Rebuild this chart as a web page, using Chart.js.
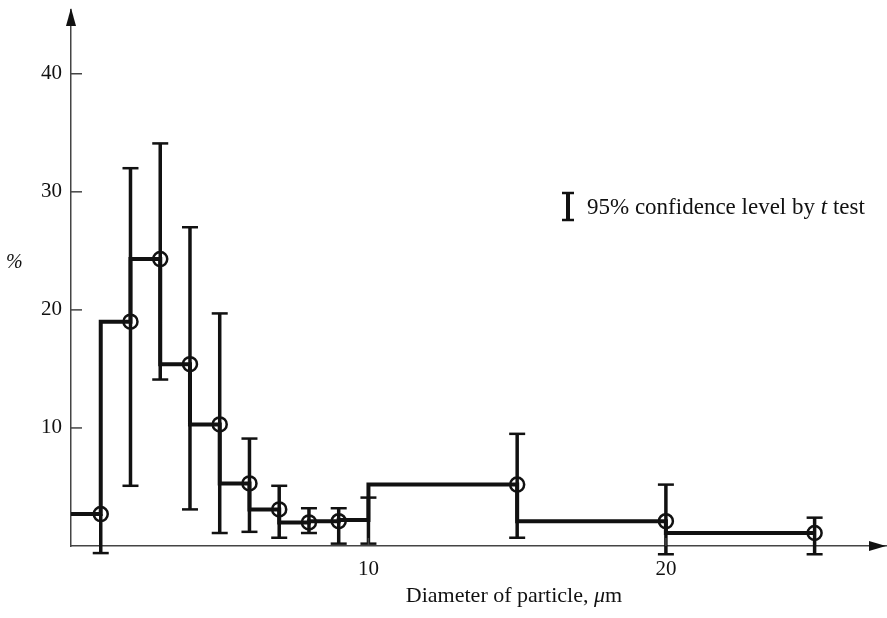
<!DOCTYPE html>
<html>
<head>
<meta charset="utf-8">
<script src="https://cdn.jsdelivr.net/npm/chart.js@4"></script>
<style>
    html, body { margin:0; padding:0; background:#fff; }
    #wrap { width:887px; height:618px; position:relative; }
</style>
</head>
<body>
<div id="wrap"><canvas id="chart"></canvas></div>
<script>
/* ---------- DATA ---------- */
// right edge of each size class, um
const binEdges = [1, 2, 3, 4, 5, 6, 7, 8, 9, 10, 15, 20, 25];
// share of particles in each class, %
const percent  = [2.7, 19.0, 24.3, 15.4, 10.3, 5.3, 3.1, 2.0, 2.1, 2.2, 5.2, 2.1, 1.1];
// 95% confidence limits (t test)
const errLow   = [-0.6, 5.1, 14.1, 3.1, 1.1, 1.2, 0.7, 1.1, 0.2, 0.2, 0.7, -0.7, -0.7];
const errHigh  = [2.7, 32.0, 34.1, 27.0, 19.7, 9.1, 5.1, 3.2, 3.2, 4.1, 9.5, 5.2, 2.4];
// classes plotted without a circle
const noMarker = [10];

const xTicks = [10, 20];
const yTicks = [10, 20, 30, 40];

const xTitle = ["Diameter of particle, ", "\u03bc", "m"];
const yTitle = "%";
const legendText = ["95% confidence level by ", "t", " test"];

/* ---------- STYLE ---------- */
const SERIF = '"Liberation Serif", "DejaVu Serif", serif';
const INK = "#111";
const AXIS = "#444";

// step outline starts at x = 0 with the first class value
const stepData = [{x:0, y:percent[0]}].concat(binEdges.map((e,i)=>({x:e, y:percent[i]})));
const markData = binEdges.map((e,i)=>({x:e, y:percent[i]}));

/* ---------- EXTRA DRAWING ---------- */
const errorBars = {
    id: "errorBars",
    beforeDatasetsDraw(c){
        const {ctx, scales:{x, y}} = c;
        ctx.save();
        ctx.strokeStyle = INK;
        ctx.lineCap = "butt";
        binEdges.forEach((e,i)=>{
            const px = x.getPixelForValue(e);
            const lo = y.getPixelForValue(errLow[i]);
            const hi = y.getPixelForValue(errHigh[i]);
            ctx.lineWidth = 3.5;
            ctx.beginPath(); ctx.moveTo(px, lo); ctx.lineTo(px, hi); ctx.stroke();
            ctx.lineWidth = 2.5;
            ctx.beginPath(); ctx.moveTo(px-8, lo); ctx.lineTo(px+8, lo); ctx.stroke();
            if (errHigh[i] > percent[i]) {
                ctx.beginPath(); ctx.moveTo(px-8, hi); ctx.lineTo(px+8, hi); ctx.stroke();
            }
        });
        ctx.restore();
    }
};

const decor = {
    id: "decor",
    afterDraw(c){
        const {ctx, chartArea:a, scales:{x, y}} = c;
        ctx.save();
        // inward tick marks
        ctx.strokeStyle = AXIS;
        ctx.lineWidth = 1.5;
        yTicks.forEach(v=>{
            const py = y.getPixelForValue(v);
            ctx.beginPath(); ctx.moveTo(a.left, py); ctx.lineTo(a.left+11, py); ctx.stroke();
        });
        xTicks.forEach(v=>{
            const px = x.getPixelForValue(v);
            ctx.beginPath(); ctx.moveTo(px, a.bottom); ctx.lineTo(px, a.bottom-8); ctx.stroke();
        });
        // arrow heads
        ctx.fillStyle = INK;
        ctx.beginPath();
        ctx.moveTo(a.left, a.top-2); ctx.lineTo(a.left-5, a.top+16); ctx.lineTo(a.left+5, a.top+16);
        ctx.closePath(); ctx.fill();
        ctx.beginPath();
        ctx.moveTo(a.right, a.bottom); ctx.lineTo(a.right-17, a.bottom-5); ctx.lineTo(a.right-17, a.bottom+5);
        ctx.closePath(); ctx.fill();

        // y title
        ctx.fillStyle = INK;
        ctx.textBaseline = "middle";
        ctx.textAlign = "left";
        ctx.font = "italic 20px " + SERIF;
        ctx.fillText(yTitle, 6, 263);

        // x title, mu in italic
        ctx.textBaseline = "alphabetic";
        const fonts = ["22px " + SERIF, "italic 22px " + SERIF, "22px " + SERIF];
        let w = 0;
        xTitle.forEach((t,i)=>{ ctx.font = fonts[i]; w += ctx.measureText(t).width; });
        let tx = 514 - w/2;
        xTitle.forEach((t,i)=>{ ctx.font = fonts[i]; ctx.fillText(t, tx, 602); tx += ctx.measureText(t).width; });

        // legend: I-beam + text
        ctx.strokeStyle = INK;
        ctx.lineWidth = 4;
        ctx.beginPath(); ctx.moveTo(568, 193); ctx.lineTo(568, 220); ctx.stroke();
        ctx.lineWidth = 2.5;
        ctx.beginPath(); ctx.moveTo(562, 193); ctx.lineTo(574, 193); ctx.stroke();
        ctx.beginPath(); ctx.moveTo(562, 220); ctx.lineTo(574, 220); ctx.stroke();
        const lf = ["23px " + SERIF, "italic 23px " + SERIF, "23px " + SERIF];
        let lx = 587;
        legendText.forEach((t,i)=>{ ctx.font = lf[i]; ctx.fillText(t, lx, 214); lx += ctx.measureText(t).width; });
        ctx.restore();
    }
};

/* ---------- CHART ---------- */
new Chart(document.getElementById("chart"), {
    type: "line",
    data: {
        datasets: [
            {
                label: "class share",
                data: stepData,
                stepped: "after",
                borderColor: INK,
                borderWidth: 4,
                borderJoinStyle: "miter",
                pointRadius: 0,
                fill: false
            },
            {
                label: "mean",
                data: markData,
                showLine: false,
                pointStyle: "circle",
                pointRadius: ctx => noMarker.includes(ctx.raw && ctx.raw.x) ? 0 : 7,
                pointBorderWidth: 2.5,
                pointBorderColor: INK,
                pointBackgroundColor: "rgba(0,0,0,0)"
            }
        ]
    },
    options: {
        responsive: true,
        maintainAspectRatio: false,
        animation: false,
        layout: { autoPadding: false, padding: { top: 10, right: 1, left: 0, bottom: 0 } },
        plugins: { legend: { display: false }, tooltip: { enabled: false } },
        elements: { line: { tension: 0 } },
        scales: {
            x: {
                type: "linear",
                min: 0, max: 27.4,
                grid: { display: false, drawTicks: false },
                border: { display: true, color: AXIS, width: 1.5 },
                afterBuildTicks: s => { s.ticks = xTicks.map(v=>({value:v})); },
                afterFit: s => { s.height = 72; s.paddingLeft = 0; s.paddingRight = 0; },
                ticks: { color: INK, font: { family: SERIF, size: 21 }, padding: 11, maxRotation: 0 }
            },
            y: {
                type: "linear",
                min: 0, max: 45.4,
                grid: { display: false, drawTicks: false },
                border: { display: true, color: AXIS, width: 1.5 },
                afterBuildTicks: s => { s.ticks = yTicks.map(v=>({value:v})); },
                afterFit: s => { s.width = 71; s.paddingTop = 0; s.paddingBottom = 0; },
                ticks: { color: INK, font: { family: SERIF, size: 21 }, padding: 9 }
            }
        }
    },
    plugins: [errorBars, decor]
});
</script>
</body>
</html>
